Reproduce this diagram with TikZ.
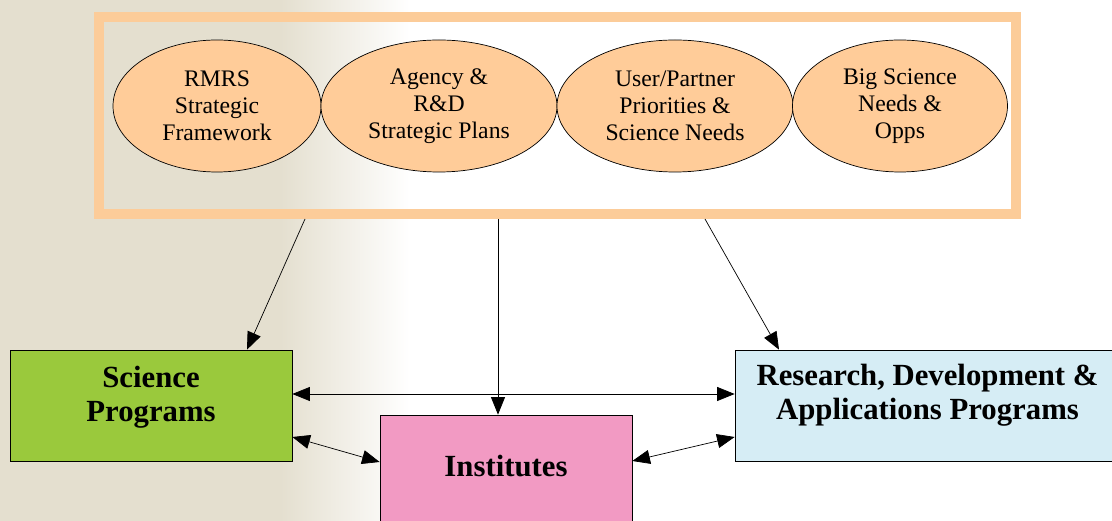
\documentclass[tikz,border=0pt]{standalone}
\usepackage{fontspec}
\setmainfont{Liberation Serif}
\usetikzlibrary{arrows.meta,shapes.geometric}

\definecolor{framecol}{RGB}{252,204,153}
\definecolor{ovalcol}{RGB}{255,204,153}
\definecolor{scicol}{RGB}{154,201,60}
\definecolor{instcol}{RGB}{242,154,195}
\definecolor{rdcol}{RGB}{214,237,245}
\definecolor{photocol}{RGB}{228,223,207}

\begin{document}
\begin{tikzpicture}[>={Triangle[length=10pt,width=8pt]},
		oval/.style={ellipse, draw, fill=ovalcol, inner sep=0pt, minimum height=2.64cm, align=center, font=\fontsize{13.5}{15.3}\selectfont},
		prog/.style={rectangle, draw, minimum height=2.22cm},
		progtext/.style={align=center, font=\fontsize{17.5}{19.3}\selectfont\bfseries}]
		\useasboundingbox (0,0) rectangle (22.24,10.42);
	
		%% faded photo on the left
		\fill[photocol] (0,0) rectangle (5.6,10.42);
		\shade[left color=photocol, right color=white] (5.6,0) rectangle (8.2,10.42);
	
		\draw[framecol, line width=0.2cm] (1.98,6.14) rectangle (20.32,10.08);
	
		\node[oval, minimum width=4.16cm] (frame1) at (4.34,8.30) {RMRS\\Strategic\\Framework};
		\node[oval, minimum width=4.72cm] (frame2) at (8.78,8.30) {Agency \&\\R\&D\\Strategic Plans};
		\node[oval, minimum width=4.72cm] (frame3) at (13.50,8.30) {User/Partner\\Priorities \&\\Science Needs};
		\node[oval, minimum width=4.30cm] (frame4) at (18.00,8.30) {Big Science\\Needs \&\\Opps};
	
		\node[prog, fill=scicol, minimum width=5.64cm] (sci) at (3.02,2.31) {};
		\node[prog, fill=instcol, minimum width=5.04cm] (inst) at (10.12,1.01) {};
		\node[prog, fill=rdcol, minimum width=7.7cm] (rd) at (18.55,2.31) {};
		\node[progtext] (sciText) at ([yshift=0.16cm]sci.center) {Science\\Programs};
		\node[progtext] (instText) at ([yshift=0.08cm]inst.center) {Institutes};
		\node[progtext] (rdText) at ([yshift=0.21cm]rd.center) {Research, Development \&\\Applications Programs};
	
		\coordinate (f1) at (6.10,6.04);
		\coordinate (f2) at (9.96,6.04);
		\coordinate (f3) at (14.10,6.04);
		\draw[->] (f1) -- (4.94,0 |- sci.north);
		\draw[->] (f2) -- (f2 |- inst.north);
		\draw[->] (f3) -- (15.58,0 |- rd.north);
	
		\coordinate (mid) at (0,2.54);
		\draw[<->] (sci.east |- mid) -- (rd.west |- mid);
		\draw[<->] ([yshift=-0.63cm]sci.east) -- ([yshift=0.17cm]inst.west);
		\draw[<->] ([yshift=0.19cm]inst.east) -- ([yshift=-0.63cm]rd.west);
	\end{tikzpicture}
\end{document}
